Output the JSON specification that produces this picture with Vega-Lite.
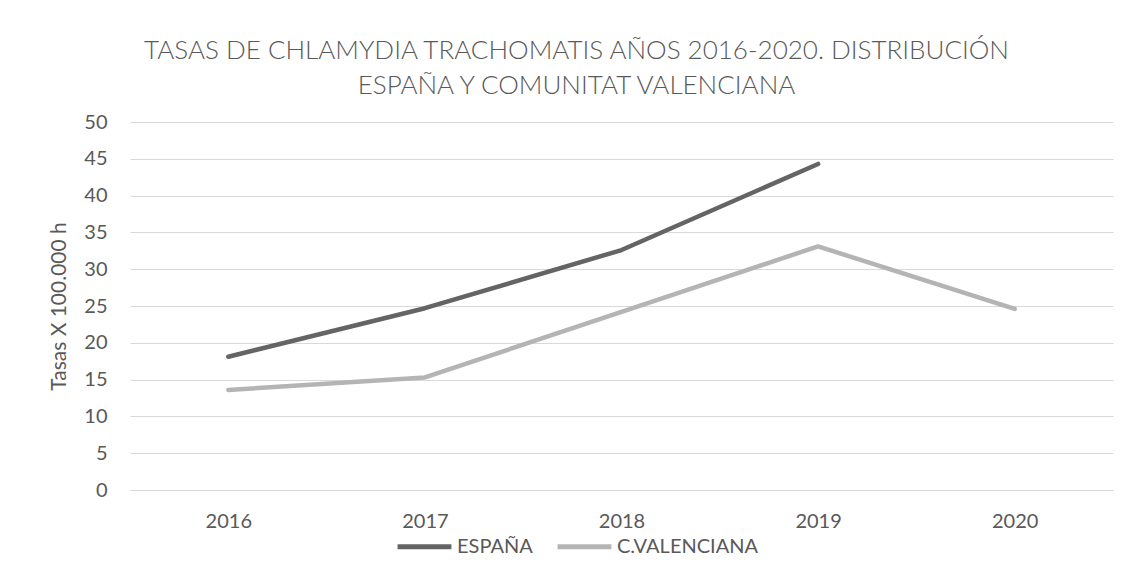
{
  "$schema": "https://vega.github.io/schema/vega-lite/v6.json",
  "autosize": "none",
  "width": 983,
  "height": 368,
  "padding": {"left": 130, "top": 122, "right": 19, "bottom": 93},
  "background": "white",
  "title": {
    "text": ["TASAS DE CHLAMYDIA TRACHOMATIS AÑOS 2016-2020. DISTRIBUCIÓN", "ESPAÑA Y COMUNITAT VALENCIANA"],
    "font": "Lato",
    "fontWeight": 300,
    "fontSize": 26,
    "color": "#595959",
    "lineHeight": 35,
    "anchor": "middle",
    "dx": -45,
    "offset": 13
  },
  "data": {
    "values": [
      {"year": "2016", "serie": "ESPAÑA", "tasa": 18.1},
      {"year": "2017", "serie": "ESPAÑA", "tasa": 24.7},
      {"year": "2018", "serie": "ESPAÑA", "tasa": 32.6},
      {"year": "2019", "serie": "ESPAÑA", "tasa": 44.3},
      {"year": "2016", "serie": "C.VALENCIANA", "tasa": 13.6},
      {"year": "2017", "serie": "C.VALENCIANA", "tasa": 15.3},
      {"year": "2018", "serie": "C.VALENCIANA", "tasa": 24.2},
      {"year": "2019", "serie": "C.VALENCIANA", "tasa": 33.1},
      {"year": "2020", "serie": "C.VALENCIANA", "tasa": 24.6}
    ]
  },
  "mark": {"type": "line", "strokeWidth": 4.5, "strokeCap": "round", "strokeJoin": "round"},
  "encoding": {
    "x": {
      "field": "year",
      "type": "ordinal",
      "scale": {"type": "point", "padding": 0.5, "domain": ["2016", "2017", "2018", "2019", "2020"]},
      "axis": {
        "title": null,
        "labelAngle": 0,
        "ticks": false,
        "domain": true,
        "domainColor": "#d9d9d9",
        "domainWidth": 1,
        "grid": false,
        "labelPadding": 21,
        "labelFontSize": 20,
        "labelFont": "Lato",
        "labelColor": "#595959"
      }
    },
    "y": {
      "field": "tasa",
      "type": "quantitative",
      "scale": {"domain": [0, 50], "nice": false},
      "axis": {
        "title": "Tasas X 100.000 h",
        "titleFont": "Lato",
        "titleFontWeight": "normal",
        "titleFontSize": 21,
        "titleColor": "#595959",
        "titlePadding": 14,
        "values": [0, 5, 10, 15, 20, 25, 30, 35, 40, 45, 50],
        "ticks": false,
        "domain": false,
        "grid": true,
        "gridColor": "#d9d9d9",
        "gridWidth": 1,
        "labelPadding": 23,
        "labelFontSize": 20,
        "labelFont": "Lato",
        "labelColor": "#595959"
      }
    },
    "color": {
      "field": "serie",
      "type": "nominal",
      "scale": {"domain": ["ESPAÑA", "C.VALENCIANA"], "range": ["#646464", "#b4b4b4"]},
      "legend": {
        "title": null,
        "orient": "none",
        "legendX": 265,
        "legendY": 395,
        "direction": "horizontal",
        "symbolType": "stroke",
        "symbolSize": 2900,
        "symbolStrokeWidth": 5,
        "labelFont": "Lato",
        "labelFontSize": 20,
        "labelColor": "#595959",
        "labelOffset": 3,
        "columnPadding": 14
      }
    }
  },
  "config": {
    "view": {"stroke": null}
  }
}
